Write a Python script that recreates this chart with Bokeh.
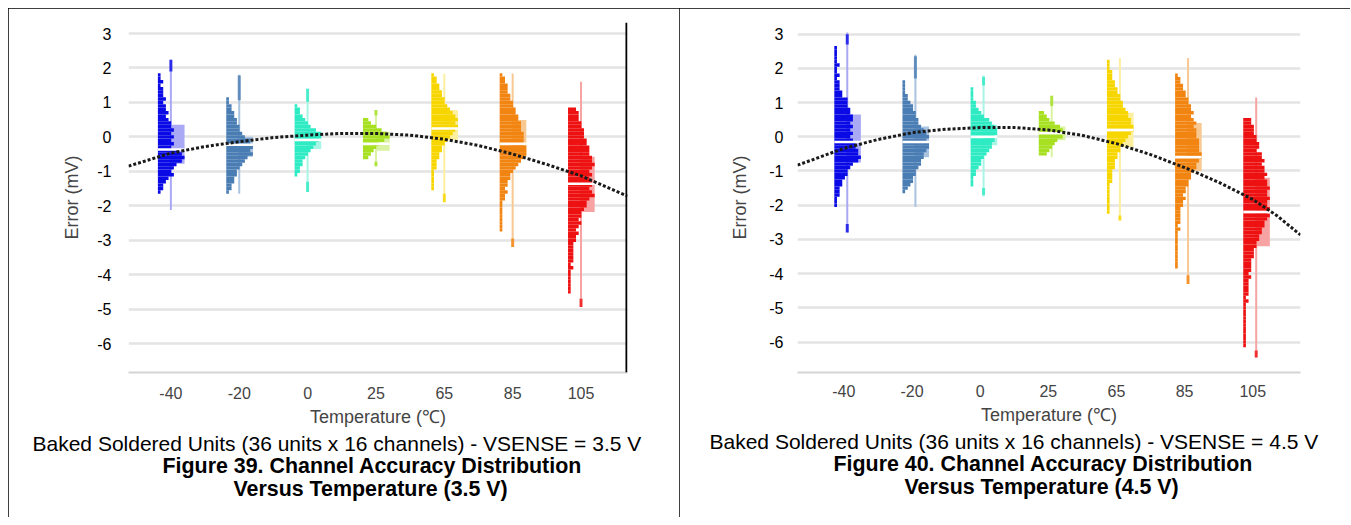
from bokeh.plotting import figure
from bokeh.models import Range1d, FixedTicker, Span, Title
from bokeh.layouts import row
from bokeh.embed import file_html
from bokeh.resources import INLINE

FONT = "Liberation Sans"

# ---------------- data ----------------
TEMPS = ["-40", "-20", "0", "25", "65", "85", "105"]
Y_TICKS = [-6, -5, -4, -3, -2, -1, 0, 1, 2, 3]
Y_LABELS = ["-6", "-5", "-4", "-3", "-2", "-1", "0", "1", "2", "3"]
DARK = ["#0A0AE6", "#4A7DB3", "#2EEBC4", "#A6E020", "#F7D600", "#F28411", "#EE1111"]
LIGHT = ["#A9A9F5", "#A9C3E0", "#A8F5E6", "#D9F3A3", "#FCEFA0", "#F8C893", "#F7A3A3"]
BIN = 0.1  # mV per histogram bin

# Figure 39 (VSENSE = 3.5 V): histogram counts, top bin first
A_TOP = [1.8, 1.1, 0.9, 0.5, 1.8, 1.8, 0.8]
A_M40 = [1, 1, 2, 1, 2, 2, 2, 3, 2, 3, 3, 4, 3, 4, 5, 5, 6, 5, 6, 5, 6, 5, 8, 9, 10, 9, 7, 6, 5, 6, 4, 3, 2, 2, 1]
A_M20 = [1, 1, 2, 2, 3, 3, 4, 4, 5, 5, 6, 7, 9, 9, 10, 9, 10, 8, 7, 6, 5, 4, 4, 3, 3, 2, 2, 1]
A_0 = [1, 2, 2, 3, 4, 5, 6, 8, 10, 10, 9, 8, 7, 6, 5, 4, 3, 3, 2, 2, 1]
A_25 = [2, 3, 5, 7, 9, 10, 8, 6, 5, 4, 3, 2]
A_65 = [1, 2, 2, 3, 3, 4, 4, 5, 5, 6, 7, 8, 9, 10, 9, 10, 9, 8, 7, 6, 5, 4, 4, 3, 3, 2, 2, 2, 1, 1, 1, 1, 1, 1]
A_85 = [1, 2, 2, 3, 3, 3, 4, 4, 5, 5, 6, 6, 7, 7, 8, 8, 8, 9, 9, 9, 9, 10, 10, 10, 9, 8, 7, 6, 5,
        4, 4, 3, 3, 2, 3, 2, 2, 1, 1, 1, 1, 1, 1, 1, 1, 1]
A_105 = [3, 4, 4, 4, 5, 5, 6, 6, 6, 7, 7, 8, 8, 8, 9, 9, 10, 9, 8, 9, 8, 9, 9, 8, 9, 10, 8, 7, 7,
         6, 5, 5, 4, 5, 4, 3, 4, 3, 3, 2, 2, 2, 2, 2, 2, 1, 2, 1, 1, 1, 1, 1, 1, 1]
A_MEDIAN = [-0.37, -0.23, -0.09, -0.2, 0.24, -0.2, -1.36]
A_Q3 = [0.35, 0.0, 0.1, 0.15, 0.78, 0.49, -0.58]
A_Q1 = [-0.78, -0.58, -0.35, -0.4, -0.1, -0.58, -2.18]
A_WHI = [2.24, 1.8, 1.4, 0.78, 1.83, 1.84, 1.6]
A_WLO = [-2.12, -1.65, -1.6, -0.85, -1.9, -3.2, -4.94]
A_OUT_CAT = [0, 1, 2, 2, 3, 3, 4, 5, 6]
A_OUT_HI = [2.24, 1.78, 1.4, -1.3, 0.78, -0.72, -1.65, -2.95, -4.7]
A_OUT_LO = [1.9, 1.06, 1.02, -1.6, 0.62, -0.85, -1.9, -3.2, -4.94]
A_FIT_X = [-0.62, 0, 0.5, 1, 1.5, 2, 2.5, 3, 3.5, 4, 4.5, 5, 5.5, 6, 6.68]
A_FIT_Y = [-0.85, -0.47, -0.28, -0.14, -0.02, 0.05, 0.1, 0.1, 0.05, -0.07, -0.25, -0.5, -0.8, -1.13, -1.72]

# Figure 40 (VSENSE = 4.5 V)
B_TOP = [2.6, 1.6, 1.4, 0.7, 2.2, 1.8, 0.5]
B_M40 = [1, 1, 1, 1, 1, 2, 1, 1, 2, 1, 2, 2, 2, 3, 3, 5, 5, 5, 6, 6, 7, 7, 6, 7, 6, 7, 6, 7, 8, 8,
         9, 9, 10, 9, 7, 6, 5, 5, 4, 3, 3, 2, 2, 2, 1, 1, 1]
B_M20 = [1, 1, 1, 1, 2, 2, 3, 4, 4, 5, 5, 6, 6, 7, 8, 9, 10, 9, 10, 10, 9, 8, 8, 7, 7, 6, 5, 5, 4, 4, 3, 2, 1]
B_0 = [1, 1, 1, 1, 2, 2, 3, 4, 5, 7, 8, 9, 10, 10, 9, 9, 8, 8, 7, 6, 5, 4, 4, 3, 2, 2, 1, 1, 1]
B_25 = [2, 3, 4, 6, 8, 9, 10, 9, 7, 6, 5, 4, 3]
B_65 = [1, 1, 1, 2, 2, 2, 3, 3, 4, 4, 5, 5, 6, 6, 7, 8, 8, 9, 9, 10, 10, 9, 8, 7, 6, 5, 5, 4, 4, 3,
        3, 3, 2, 2, 2, 2, 1, 1, 1, 1, 1, 1, 1, 1, 1]
B_85 = [1, 2, 2, 3, 3, 4, 4, 5, 5, 6, 6, 7, 6, 7, 8, 7, 8, 8, 8, 9, 9, 9, 9, 10, 10, 9, 8, 8, 7, 6,
        6, 5, 5, 4, 4, 3, 4, 3, 3, 2, 2, 2, 2, 2, 1, 2, 1, 1, 1, 1, 1, 1, 1, 1, 1, 1, 1]
B_105 = [3, 3, 4, 4, 4, 5, 5, 6, 6, 5, 7, 7, 8, 7, 8, 8, 9, 8, 9, 9, 10, 9, 9, 10, 9, 9, 10, 9, 10, 9,
         8, 8, 7, 7, 6, 6, 5, 5, 4, 4, 4, 3, 3, 3, 3, 2, 3, 2, 2, 2, 2, 2, 1, 2, 1, 1, 1, 1, 1, 1,
         1, 1, 1, 1, 1, 1, 1]
B_MEDIAN = [-0.15, -0.15, 0.0, 0.1, 0.2, -0.6, -2.2]
B_Q3 = [0.65, 0.3, 0.35, 0.3, 0.7, 0.4, -1.2]
B_Q1 = [-0.75, -0.6, -0.25, -0.1, -0.3, -1.0, -3.2]
B_WHI = [3.05, 2.4, 1.8, 1.2, 2.3, 2.3, 1.15]
B_WLO = [-2.8, -2.05, -1.75, -0.6, -2.45, -4.3, -6.45]
B_OUT_CAT = [0, 0, 1, 2, 2, 3, 4, 5, 6]
B_OUT_HI = [3.0, -2.55, 2.35, 1.75, -1.5, 1.2, -2.3, -4.05, -6.25]
B_OUT_LO = [2.7, -2.8, 1.7, 1.5, -1.7, 0.9, -2.45, -4.3, -6.45]
B_FIT_X = [-0.68, 0, 0.5, 1, 1.5, 2, 2.5, 3, 3.5, 4, 4.5, 5, 5.5, 6, 6.35, 6.7]
B_FIT_Y = [-0.83, -0.34, -0.08, 0.12, 0.22, 0.27, 0.27, 0.2, 0.04, -0.2, -0.52, -0.9, -1.33, -1.83, -2.3, -2.87]

A_CAPTIONS = ["Baked Soldered Units (36 units x 16 channels) - VSENSE = 3.5 V",
              "Figure 39. Channel Accuracy Distribution",
              "Versus Temperature (3.5 V)"]
B_CAPTIONS = ["Baked Soldered Units (36 units x 16 channels) - VSENSE = 4.5 V",
              "Figure 40. Channel Accuracy Distribution",
              "Versus Temperature (4.5 V)"]


def make_panel(top, counts, med, q1, q3, whi, wlo, oc, ohi, olo, fx, fy, captions,
               xoff, xr, yr, borders, cap_off, ytick_standoff, ylab_standoff,
               xtick_standoff, right_line):
    bl, br, bt, bb = borders
    p = figure(width=671, height=509, x_range=Range1d(*xr), y_range=Range1d(*yr),
               output_backend="svg", toolbar_location=None,
               min_border_left=bl, min_border_right=br, min_border_top=bt, min_border_bottom=bb,
               background_fill_color="white", border_fill_color="white")
    p.outline_line_color = None
    p.styles = {"outline": "1px solid black", "outline-offset": "-1px"}

    # grid
    p.xgrid.visible = False
    p.ygrid.grid_line_color = "#E4E4E4"
    p.ygrid.grid_line_width = 2.5

    # y axis
    p.yaxis.ticker = FixedTicker(ticks=Y_TICKS)
    p.yaxis.major_label_overrides = dict(zip(Y_TICKS, Y_LABELS))
    p.yaxis.axis_line_color = None
    p.yaxis.major_tick_line_color = None
    p.yaxis.minor_tick_line_color = None
    p.yaxis.major_label_text_font = FONT
    p.yaxis.major_label_text_font_size = "16px"
    p.yaxis.major_label_text_color = "black"
    p.yaxis.major_label_standoff = ytick_standoff
    p.yaxis.axis_label = "Error (mV)"
    p.yaxis.axis_label_text_font = FONT
    p.yaxis.axis_label_text_font_size = "18px"
    p.yaxis.axis_label_text_font_style = "normal"
    p.yaxis.axis_label_standoff = ylab_standoff

    # x axis
    p.xaxis.ticker = FixedTicker(ticks=list(range(len(TEMPS))))
    p.xaxis.major_label_overrides = {i: t for i, t in enumerate(TEMPS)}
    p.xaxis.axis_line_color = "#D4D4D4"
    p.xaxis.axis_line_width = 2
    p.xaxis.major_tick_line_color = None
    p.xaxis.minor_tick_line_color = None
    p.xaxis.major_label_text_font = FONT
    p.xaxis.major_label_text_font_size = "16px"
    p.xaxis.major_label_standoff = xtick_standoff
    p.xaxis.axis_label = "Temperature (℃)"
    p.xaxis.axis_label_text_font = FONT
    p.xaxis.axis_label_text_font_size = "18px"
    p.xaxis.axis_label_text_font_style = "normal"
    p.xaxis.axis_label_standoff = 5

    if right_line:
        p.add_layout(Span(location=xr[1] - 0.015, dimension="height",
                          line_color="black", line_width=2))

    n = len(TEMPS)
    # boxes, whiskers
    p.quad(left=[i + xoff for i in range(n)], right=[i + xoff + 0.2 for i in range(n)],
           top=q3, bottom=q1, fill_color=LIGHT, line_color=None)
    p.segment(x0=[i + xoff for i in range(n)], x1=[i + xoff for i in range(n)],
              y0=whi, y1=wlo, line_color=LIGHT, line_width=2)

    # histograms
    hl, hr, ht, hb, hc = [], [], [], [], []
    for i, cnts in enumerate(counts):
        base = i + xoff - 0.19
        mx = max(cnts)
        for j, c in enumerate(cnts):
            v = top[i] - j * BIN
            hl.append(base)
            hr.append(base + 0.39 * c / mx)
            ht.append(v + BIN / 2)
            hb.append(v - BIN / 2)
            hc.append(DARK[i])
    p.quad(left=hl, right=hr, top=ht, bottom=hb, fill_color=hc, line_color=None)

    # outlier marks on whiskers
    p.segment(x0=[k + xoff for k in oc], x1=[k + xoff for k in oc], y0=ohi, y1=olo,
              line_color=[DARK[k] for k in oc], line_width=3, line_alpha=0.8)

    # medians
    p.segment(x0=[i + xoff - 0.19 for i in range(n)], x1=[i + xoff + 0.2 for i in range(n)],
              y0=med, y1=med, line_color="white", line_width=2.5)

    # fit curve
    p.line(fx, fy, line_color="#1A1A1A", line_width=3, line_dash="3 2")

    # captions below the chart
    styles = ["normal", "bold", "bold"]
    sizes = ["21px", "21.4px", "21.4px"]
    standoffs = [0, -5, -2]
    for k, txt in enumerate(captions):
        p.add_layout(Title(text=txt, align="left", offset=cap_off[k], standoff=standoffs[k],
                           text_font=FONT, text_font_size=sizes[k], text_font_style=styles[k],
                           text_color="black"), "below")
    return p


p1 = make_panel(A_TOP, [A_M40, A_M20, A_0, A_25, A_65, A_85, A_105], A_MEDIAN, A_Q1, A_Q3,
                A_WHI, A_WLO, A_OUT_CAT, A_OUT_HI, A_OUT_LO, A_FIT_X, A_FIT_Y, A_CAPTIONS,
                xoff=0.0, xr=(-0.62, 6.68), yr=(-6.84, 3.32), borders=(120, 52, 14, 145),
                cap_off=[-96, 34, 105],
                ytick_standoff=11, ylab_standoff=12, xtick_standoff=8, right_line=True)
p2 = make_panel(B_TOP, [B_M40, B_M20, B_0, B_25, B_65, B_85, B_105], B_MEDIAN, B_Q1, B_Q3,
                B_WHI, B_WLO, B_OUT_CAT, B_OUT_HI, B_OUT_LO, B_FIT_X, B_FIT_Y, B_CAPTIONS,
                xoff=0.05, xr=(-0.68, 6.7), yr=(-6.89, 3.34), borders=(118, 50, 12, 142),
                cap_off=[-88, 36, 107],
                ytick_standoff=8, ylab_standoff=16, xtick_standoff=6, right_line=False)

layout = row(p1, p2, margin=(8, 0, 0, 8))
open("out.html", "w").write(file_html(layout, INLINE))
